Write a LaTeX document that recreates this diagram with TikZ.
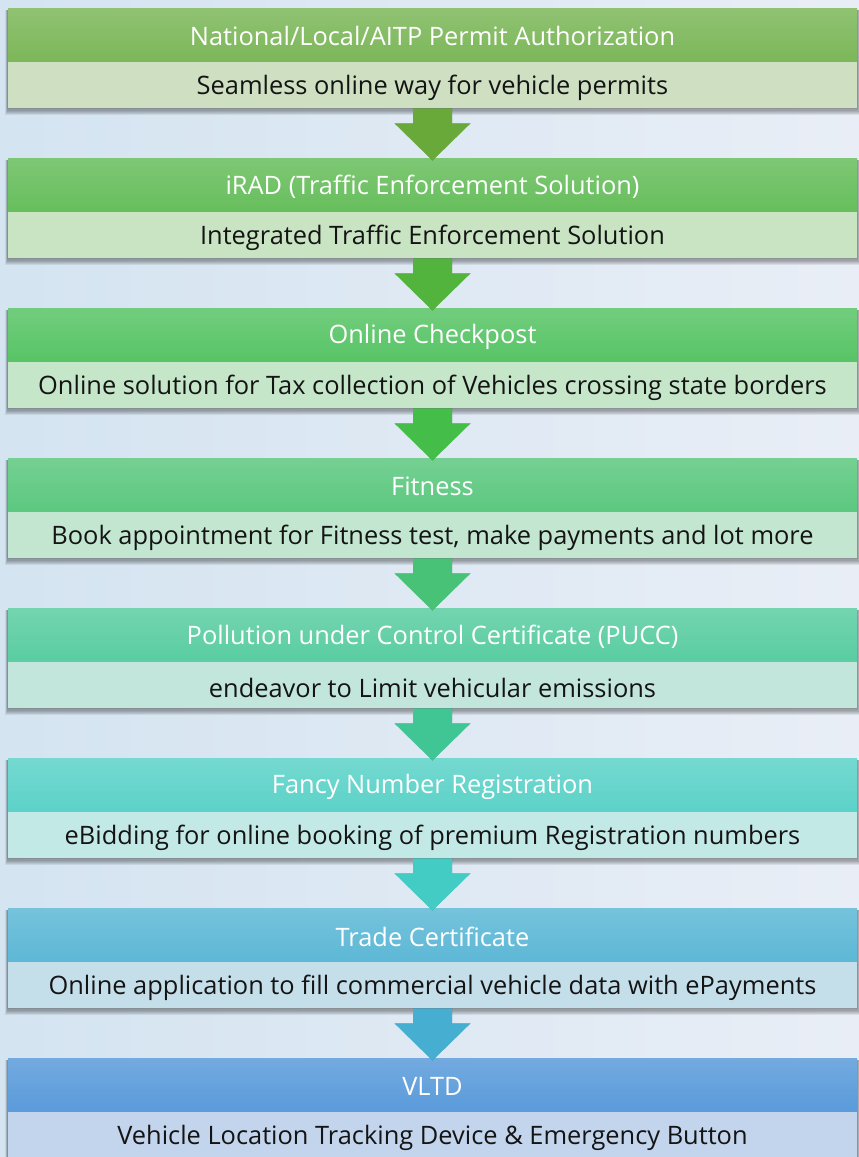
\documentclass[tikz,border=0pt]{standalone}
\usepackage{fontspec}
\setmainfont{Open Sans}
\usetikzlibrary{calc}
\pgfdeclarelayer{bglayer}
\pgfdeclarelayer{shlayer}
\pgfsetlayers{bglayer,shlayer,main}
\definecolor{bgL}{HTML}{D4E4F1}
\definecolor{bgR}{HTML}{E9EEF6}
\definecolor{hA}{HTML}{7CB759}\definecolor{bA}{HTML}{CEDFC2}\definecolor{aA}{HTML}{68A93A}
\definecolor{hB}{HTML}{67BE5C}\definecolor{bB}{HTML}{C9E4C3}\definecolor{aB}{HTML}{52B43C}
\definecolor{hC}{HTML}{58C466}\definecolor{bC}{HTML}{C5E6C8}\definecolor{aC}{HTML}{44BE48}
\definecolor{hD}{HTML}{5CC87F}\definecolor{bD}{HTML}{C3E6D1}\definecolor{aD}{HTML}{47C277}
\definecolor{hE}{HTML}{5ACDA2}\definecolor{bE}{HTML}{C2E6DC}\definecolor{aE}{HTML}{40C594}
\definecolor{hF}{HTML}{5CD2C8}\definecolor{bF}{HTML}{C3E9E7}\definecolor{aF}{HTML}{42CCC4}
\definecolor{hG}{HTML}{5DB8D6}\definecolor{bG}{HTML}{C5DFEA}\definecolor{aG}{HTML}{46AED0}
\definecolor{hH}{HTML}{5A9BDA}\definecolor{bH}{HTML}{C3D5EC}
\tikzset{
  hdr/.style={rectangle, anchor=north, minimum width=849pt, minimum height=52.5pt, inner sep=0pt,
    text=white, font=\fontsize{25.4}{30}\selectfont, top color=#1!85!white, bottom color=#1},
  bdy/.style={rectangle, anchor=north, minimum width=849pt, minimum height=46.5pt, inner sep=0pt,
    text=black!92, font=\fontsize{25.4}{30}\selectfont, fill=#1},
  shadowpiece/.style={fill=black, fill opacity=0.075, draw=none}
}
\newcommand\flowblk[5]{%
  \node[hdr=h#2] (h#1) at (432.5,#3) {\raisebox{-1.5pt}[\height][\depth]{#4}};
  \node[bdy=b#2] (b#1) at (h#1.south) {\raisebox{-3pt}[\height][\depth]{#5}};
  \begin{pgfonlayer}{shlayer}
    \foreach \k in {1,...,6}{
      \fill[shadowpiece] ($(h#1.north west)+(-0.4*\k,1)$) rectangle ($(b#1.south east)+(0.6*\k,1.1*\k)$);
    }
  \end{pgfonlayer}}
\newcommand\flowarrpath[2]{($(#1.south)+(-19.5,0)$) -- ($(#1.south)+(-19.5,15)$) -- ($(#1.south)+(-38,15)$)
    -- ($(#2.north)+(0,2)$) -- ($(#1.south)+(38,15)$) -- ($(#1.south)+(19.5,15)$) -- ($(#1.south)+(19.5,0)$) -- cycle}
\newcommand\flowarr[3]{%
  \foreach \k in {1,...,4}{
    \fill[shadowpiece, shift={(0,\k)}] \flowarrpath{#1}{#2};
  }
  \fill[fill=#3] \flowarrpath{#1}{#2};}
\begin{document}
\begin{tikzpicture}[x=1pt,y=-1pt]
\begin{pgfonlayer}{bglayer}
  \fill[left color=bgL, right color=bgR] (0,0) rectangle (859,1157);
\end{pgfonlayer}
\useasboundingbox (0,0) rectangle (859,1157);
\flowblk{1}{A}{8.5}{National/Local/AITP Permit Authorization}{Seamless online way for vehicle permits}
\flowblk{2}{B}{158.5}{iRAD (Traffic Enforcement Solution)}{Integrated Traffic Enforcement Solution}
\flowblk{3}{C}{308.5}{Online Checkpost}{Online solution for Tax collection of Vehicles crossing state borders}
\flowblk{4}{D}{458.5}{Fitness}{Book appointment for Fitness test, make payments and lot more}
\flowblk{5}{E}{608.5}{Pollution under Control Certificate (PUCC)}{endeavor to Limit vehicular emissions}
\flowblk{6}{F}{758.5}{Fancy Number Registration}{eBidding for online booking of premium Registration numbers}
\flowblk{7}{G}{908.5}{Trade Certificate}{Online application to fill commercial vehicle data with ePayments}
\flowblk{8}{H}{1058.5}{VLTD}{Vehicle Location Tracking Device \& Emergency Button}
\flowarr{b1}{h2}{aA}
\flowarr{b2}{h3}{aB}
\flowarr{b3}{h4}{aC}
\flowarr{b4}{h5}{aD}
\flowarr{b5}{h6}{aE}
\flowarr{b6}{h7}{aF}
\flowarr{b7}{h8}{aG}
\end{tikzpicture}
\end{document}
